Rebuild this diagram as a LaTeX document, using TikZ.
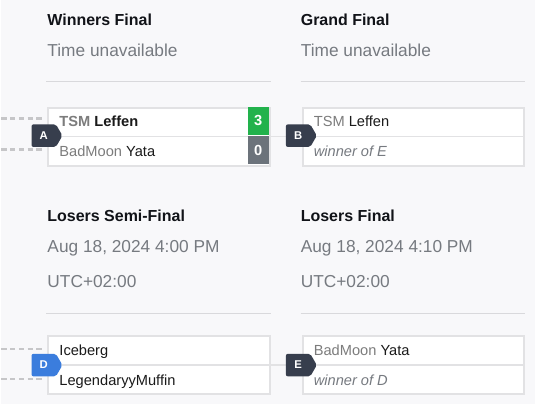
\documentclass[tikz,border=0pt]{standalone}
\usepackage{fontspec}
\setmainfont{Liberation Sans}
\usetikzlibrary{shapes.symbols, positioning}
\definecolor{bgc}{HTML}{F8F8FA}
\definecolor{titlec}{HTML}{111318}
\definecolor{infoc}{HTML}{767A80}
\definecolor{rulec}{HTML}{D9D9DC}
\definecolor{boxc}{HTML}{E2E2E4}
\definecolor{feedc}{HTML}{C6C6C8}
\definecolor{orgc}{HTML}{7C7C7C}
\definecolor{namec}{HTML}{1A1A1A}
\definecolor{wonc}{HTML}{22B24C}
\definecolor{lostc}{HTML}{6C737B}
\definecolor{tagdark}{HTML}{373E4D}
\definecolor{tagblue}{HTML}{3B7DDD}

\begin{document}
\begin{tikzpicture}[x=0.75pt, y=-0.75pt,
  title/.style = {anchor=base west, inner sep=0, text=titlec, font=\fontsize{12}{14}\selectfont\bfseries},
  info/.style = {anchor=base west, inner sep=0, text=infoc, font=\fontsize{13}{15}\selectfont},
  rule/.style = {draw=rulec, line width=0.75pt},
  match/.style = {draw=boxc, fill=white, line width=1.5pt, anchor=north west, minimum width=166.5pt, minimum height=43.5pt, inner sep=0},
  player/.style = {anchor=base west, inner sep=0, text=namec, font=\fontsize{11}{13}\selectfont},
  score/.style = {minimum width=15.75pt, minimum height=21pt, inner sep=0, text=white, font=\fontsize{11}{13}\selectfont\bfseries},
  tag/.style = {shape=signal, signal to=east, signal pointer angle=120, minimum width=23.25pt, minimum height=17pt, inner sep=0, rounded corners=1.5pt, text=white, font=\fontsize{8.5}{9}\selectfont\bfseries},
  feed/.style = {draw=feedc, line width=2pt, dash pattern=on 4pt off 2.6pt, shorten >=3pt},
  link/.style = {draw=boxc, line width=1.2pt}]
\fill[bgc] (0,0) rectangle (535,405);

% round headers
\node[title] (hA) at (46,26) {Winners Final};
\node[info] (dA) at (46,57) {Time unavailable};
\draw[rule] (45,82) -- (270,82);
\node[title] (hB) at (300,26) {Grand Final};
\node[info] (dB) at (300,57) {Time unavailable};
\draw[rule] (300,82) -- (525,82);
\node[title] (hD) at (46,222) {Losers Semi-Final};
\node[info] (dD) at (46,253) {Aug 18, 2024 4:00 PM};
\node[info] (zD) at (46,288) {UTC+02:00};
\draw[rule] (45,314) -- (270,314);
\node[title] (hE) at (300,222) {Losers Final};
\node[info] (dE) at (300,253) {Aug 18, 2024 4:10 PM};
\node[info] (zE) at (300,288) {UTC+02:00};
\draw[rule] (300,314) -- (525,314);

% match boxes
\node[match] (mA) at (46,107) {};
\node[match] (mB) at (301,107) {};
\node[match] (mD) at (46,336) {};
\node[match] (mE) at (301,336) {};
\draw[link] (mA.east) -- (mB.west);
\draw[link] (mD.east) -- (mE.west);
\foreach \m in {mA, mB, mD, mE}
  \draw[draw=boxc, line width=1.2pt] (\m.west) -- (\m.east);

% feeders
\coordinate (fA1) at (0,119);
\coordinate (fA2) at (0,150);
\coordinate (fD1) at (0,350);
\coordinate (fD2) at (0,380);
\foreach \f/\m in {fA1/mA, fA2/mA, fD1/mD, fD2/mD}
  \draw[feed] (\f) -- (\f -| \m.west);

% players
\node[player] (pA1) at (58,127) {\textcolor{orgc}{\bfseries TSM} \textbf{Leffen}};
\node[player] (pA2) at (58,157) {\textcolor{orgc}{BadMoon} Yata};
\node[score, fill=wonc] (sA1) at (257.5,121) {3};
\node[score, fill=lostc] (sA2) at (257.5,150.5) {0};
\node[player] (pB1) at (313,127) {\textcolor{orgc}{TSM} Leffen};
\node[player, text=infoc] (pB2) at (313,157) {\itshape winner of E};
\node[player] (pD1) at (58,356) {Iceberg};
\node[player] (pD2) at (58,386) {LegendaryyMuffin};
\node[player] (pE1) at (313,356) {\textcolor{orgc}{BadMoon} Yata};
\node[player, text=infoc] (pE2) at (313,386) {\itshape winner of D};

% round tags
\node[tag, fill=tagdark] (tA) at (42.5,136) {A};
\node[tag, fill=tagdark] (tB) at (297.5,136) {B};
\node[tag, fill=tagblue] (tD) at (42.5,366) {D};
\node[tag, fill=tagdark] (tE) at (297.5,366) {E};
\end{tikzpicture}
\end{document}
